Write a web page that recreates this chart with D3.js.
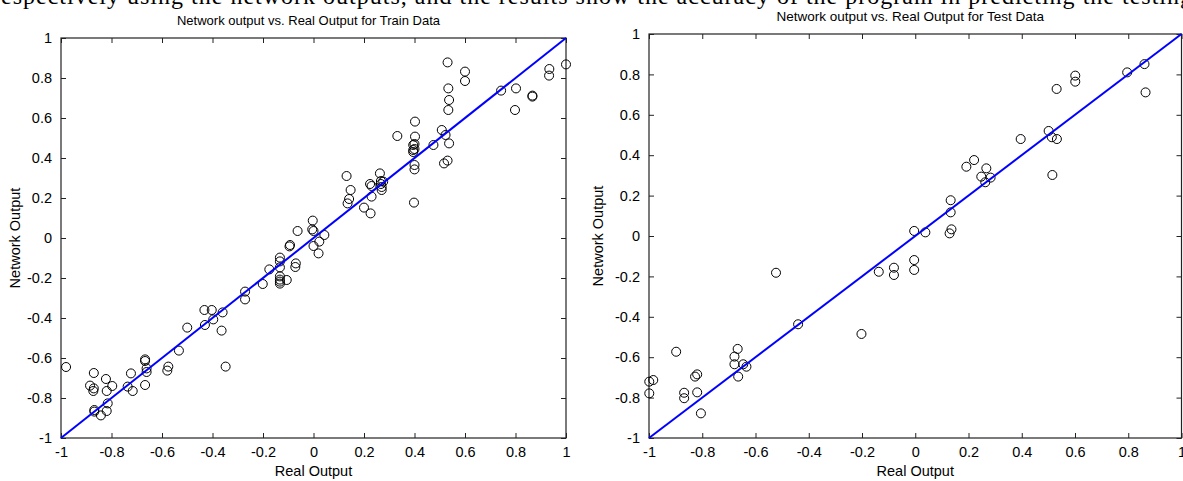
<!DOCTYPE html>
<html>
<head>
<meta charset="utf-8">
<script src="https://cdn.jsdelivr.net/npm/d3@7"></script>
<style>
  body { margin: 0; background: #fff; }
  svg { display: block; }
  text { font-family: "Liberation Sans", Arial, sans-serif; fill: #000; }
</style>
</head>
<body>
<div id="chart"></div>
<script>
// [real output, network output]
const trainPoints = [
  [-0.98, -0.645], [-0.87, -0.675], [-0.885, -0.738], [-0.87, -0.752], [-0.872, -0.765],
  [-0.822, -0.705], [-0.819, -0.765], [-0.797, -0.74], [-0.815, -0.827], [-0.819, -0.865],
  [-0.868, -0.86], [-0.868, -0.868], [-0.842, -0.887], [-0.723, -0.677], [-0.736, -0.743],
  [-0.716, -0.765], [-0.667, -0.607], [-0.667, -0.615], [-0.661, -0.652], [-0.661, -0.67],
  [-0.667, -0.735], [-0.575, -0.643], [-0.579, -0.663], [-0.533, -0.563], [-0.5, -0.448],
  [-0.432, -0.36], [-0.43, -0.435], [-0.403, -0.36], [-0.397, -0.407], [-0.36, -0.372],
  [-0.364, -0.463], [-0.348, -0.643], [-0.271, -0.268], [-0.271, -0.307], [-0.201, -0.23],
  [-0.175, -0.157], [-0.133, -0.098], [-0.133, -0.117], [-0.133, -0.147], [-0.133, -0.192],
  [-0.133, -0.208], [-0.133, -0.218], [-0.133, -0.228], [-0.106, -0.21], [-0.093, -0.035],
  [-0.095, -0.042], [-0.07, -0.127], [-0.072, -0.145], [-0.063, 0.035], [0, 0.035],
  [0, -0.04], [0.023, -0.018], [0.043, 0.015], [0.02, -0.077], [-0.003, 0.087],
  [-0.005, 0.043], [0.531, 0.878], [0.6, 0.832], [0.6, 0.785], [0.534, 0.748],
  [0.537, 0.69], [0.534, 0.64], [0.508, 0.54], [0.523, 0.515], [0.537, 0.473],
  [0.517, 0.373], [0.531, 0.387], [0.475, 0.465], [0.402, 0.582], [0.402, 0.507],
  [0.395, 0.465], [0.395, 0.44], [0.395, 0.43], [0.4, 0.47], [0.4, 0.445],
  [0.4, 0.365], [0.4, 0.343], [0.398, 0.177], [0.332, 0.51], [0.743, 0.737],
  [0.802, 0.748], [0.798, 0.64], [0.867, 0.712], [0.867, 0.707], [0.934, 0.845],
  [0.933, 0.812], [1.0, 0.868], [0.131, 0.31], [0.147, 0.24], [0.141, 0.195],
  [0.135, 0.173], [0.2, 0.152], [0.226, 0.123], [0.224, 0.27], [0.23, 0.207],
  [0.263, 0.323], [0.267, 0.285], [0.267, 0.27], [0.27, 0.255], [0.27, 0.24],
  [0.276, 0.282], [0.23, 0.26]
];

const testPoints = [
  [0.861, 0.851], [0.796, 0.81], [0.865, 0.711], [0.601, 0.794], [0.601, 0.764],
  [0.531, 0.728], [0.501, 0.52], [0.513, 0.489], [0.532, 0.48], [0.515, 0.302],
  [0.396, 0.48], [0.221, 0.376], [0.192, 0.343], [0.267, 0.335], [0.248, 0.294],
  [0.283, 0.289], [0.263, 0.266], [0.133, 0.177], [0.133, 0.117], [0.136, 0.033],
  [0.129, 0.013], [-0.004, 0.025], [0.038, 0.018], [-0.137, -0.177], [-0.08, -0.157],
  [-0.08, -0.193], [-0.004, -0.119], [-0.004, -0.168], [-0.202, -0.485], [-0.523, -0.182],
  [-0.44, -0.437], [-0.898, -0.573], [-0.667, -0.559], [-0.679, -0.597], [-0.679, -0.635],
  [-0.646, -0.635], [-0.634, -0.647], [-0.665, -0.696], [-0.819, -0.685], [-0.827, -0.696],
  [-0.999, -0.721], [-0.984, -0.713], [-0.999, -0.779], [-0.868, -0.776], [-0.868, -0.803],
  [-0.819, -0.774], [-0.805, -0.878]
];

const tickValues = [-1, -0.8, -0.6, -0.4, -0.2, 0, 0.2, 0.4, 0.6, 0.8, 1];
const fitLine = [[-1, -1], [1, 1]];

const titles = {
  train: "Network output vs. Real Output for Train Data",
  test: "Network output vs. Real Output for Test Data",
};

const width = 1183;
const height = 481;

const svg = d3.select("#chart")
  .append("svg")
  .attr("width", width)
  .attr("height", height);

// cut-off line of the surrounding document text (only its lower part shows)
svg.append("text")
  .attr("x", -8)
  .attr("y", 4)
  .attr("textLength", 1200)
  .attr("lengthAdjust", "spacing")
  .style("font-family", "'Liberation Serif', 'Times New Roman', serif")
  .style("font-size", "24px")
  .text("respectively using the network outputs, and the results show the accuracy of the program in predicting the testing");

function drawPanel(box, points, title) {
  const x = d3.scaleLinear().domain([-1, 1]).range([box.left, box.right]);
  const y = d3.scaleLinear().domain([-1, 1]).range([box.bottom, box.top]);
  const fmt = (d) => String(+d.toFixed(1));
  const g = svg.append("g");

  g.append("text")
    .attr("x", (box.left + box.right) / 2 - 5)
    .attr("y", box.titleY)
    .attr("text-anchor", "middle")
    .style("font-size", box.titleSize + "px")
    .text(title);

  const axisStyle = (sel) => {
    sel.select(".domain").remove();
    sel.selectAll(".tick line").attr("stroke", "#222");
    sel.selectAll(".tick text")
      .style("font-family", "'Liberation Sans', Arial, sans-serif")
      .style("font-size", "14.5px")
      .attr("fill", "#000");
  };

  g.append("g")
    .attr("transform", `translate(0,${box.bottom})`)
    .call(d3.axisBottom(x).tickValues(tickValues).tickFormat(fmt).tickSizeInner(-5).tickSizeOuter(0).tickPadding(9))
    .call(axisStyle);
  g.append("g")
    .attr("transform", `translate(0,${box.top})`)
    .call(d3.axisTop(x).tickValues(tickValues).tickFormat("").tickSizeInner(-5).tickSizeOuter(0))
    .call(axisStyle);
  g.append("g")
    .attr("transform", `translate(${box.left},0)`)
    .call(d3.axisLeft(y).tickValues(tickValues).tickFormat(fmt).tickSizeInner(-5).tickSizeOuter(0).tickPadding(9))
    .call(axisStyle);
  g.append("g")
    .attr("transform", `translate(${box.right},0)`)
    .call(d3.axisRight(y).tickValues(tickValues).tickFormat("").tickSizeInner(-5).tickSizeOuter(0))
    .call(axisStyle);

  g.append("rect")
    .attr("x", box.left)
    .attr("y", box.top)
    .attr("width", box.right - box.left)
    .attr("height", box.bottom - box.top)
    .attr("fill", "none")
    .attr("stroke", "#222")
    .attr("stroke-width", 1.2);

  g.append("g")
    .selectAll("circle")
    .data(points)
    .join("circle")
    .attr("cx", (d) => x(d[0]))
    .attr("cy", (d) => y(d[1]))
    .attr("r", 4.5)
    .attr("fill", "none")
    .attr("stroke", "#000")
    .attr("stroke-width", 1);

  g.append("path")
    .datum(fitLine)
    .attr("d", d3.line().x((d) => x(d[0])).y((d) => y(d[1])))
    .attr("fill", "none")
    .attr("stroke", "#0000ff")
    .attr("stroke-width", 2);

  g.append("text")
    .attr("x", (box.left + box.right) / 2)
    .attr("y", 476)
    .attr("text-anchor", "middle")
    .style("font-size", "14.5px")
    .text("Real Output");

  g.append("text")
    .attr("transform", `translate(${box.ylabelX},${(box.top + box.bottom) / 2}) rotate(-90)`)
    .attr("text-anchor", "middle")
    .style("font-size", "14.5px")
    .text("Network Output");
}

drawPanel({ left: 61, right: 566, top: 38, bottom: 438, titleY: 25, titleSize: 13, ylabelX: 20 },
  trainPoints, titles.train);
drawPanel({ left: 649, right: 1181.5, top: 34, bottom: 438, titleY: 21, titleSize: 13.5, ylabelX: 603 },
  testPoints, titles.test);
</script>
</body>
</html>
